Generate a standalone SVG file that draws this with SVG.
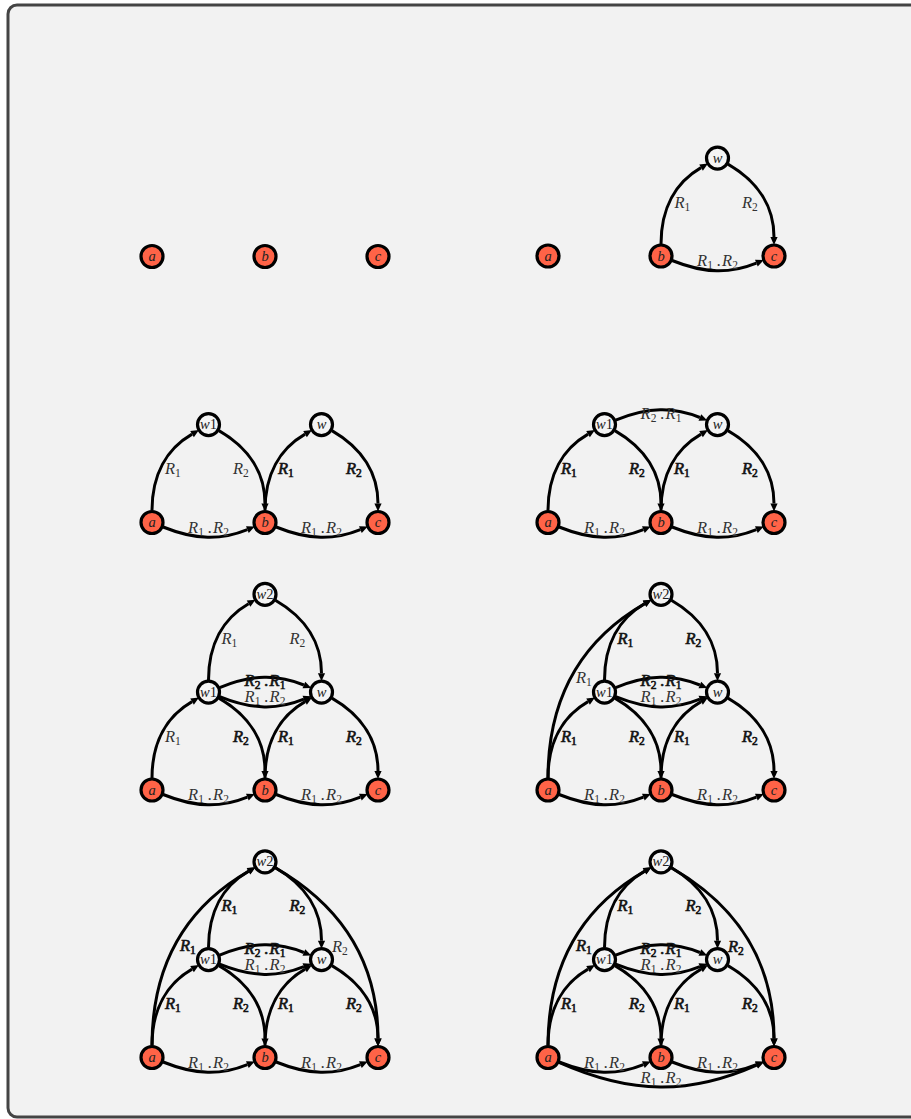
<svg xmlns="http://www.w3.org/2000/svg" width="911" height="1119" viewBox="0 0 911 1119">
<defs>
<marker id="ah" markerUnits="userSpaceOnUse" markerWidth="8" markerHeight="8" refX="0" refY="0" orient="auto" overflow="visible">
<path d="M0,-3.6 L8,0 L0,3.6 z" fill="#000"/>
</marker>
</defs>
<style>
.e{fill:none;stroke:#000;stroke-width:3;marker-end:url(#ah)}
.t{font-family:"Liberation Serif",serif;font-style:italic;font-size:16.5px;fill:#333}
.m{text-anchor:middle}
.s{font-size:11.5px;font-style:normal}
.b{stroke:#111;stroke-width:0.6;fill:#111}
.n circle{stroke:#000;stroke-width:3.2}
.red circle{fill:#ff6347}
.wht circle{fill:#f4f4f4}
.n text{font-family:"Liberation Serif",serif;font-style:italic;font-size:14.5px;fill:#222;text-anchor:middle}
.n tspan{font-style:normal}
</style>
<rect x="8" y="5" width="930" height="1112" rx="9" fill="#f2f2f2" stroke="#444" stroke-width="3"/>

<g id="connectors">
<!-- panel 2 -->
<g transform="translate(548,256)">
<path class="e" d="M113,-12 C113,-48.1 127.85,-73.85 153.05,-88.4"/>
<path class="e" d="M179.89,-91.9 C211.15,-73.85 226,-48.1 226,-19"/>
<path class="e" d="M124.13,4.5 C157,17.8 182,17.8 208.38,7.1"/>
<text class="t" x="126.5" y="-48.5">R<tspan class="s" dy="3">1</tspan></text>
<text class="t" x="194" y="-48.5">R<tspan class="s" dy="3">2</tspan></text>
<text class="t m" x="169.5" y="10">R<tspan class="s" dy="3">1</tspan><tspan dy="-3" dx="4">.</tspan><tspan dx="1">R</tspan><tspan class="s" dy="3">2</tspan></text>
</g>
<!-- panel 3 -->
<g transform="translate(152,522.5)">
<path class="e" d="M0,-12 C0,-48.1 14.85,-73.85 40.05,-88.4"/>
<path class="e" d="M66.89,-91.9 C98.15,-73.85 113,-48.1 113,-19"/>
<path class="e" d="M113,-12 C113,-48.1 127.85,-73.85 153.05,-88.4"/>
<path class="e" d="M179.89,-91.9 C211.15,-73.85 226,-48.1 226,-19"/>
<path class="e" d="M11.13,4.5 C44,17.8 69,17.8 95.38,7.1"/>
<path class="e" d="M124.13,4.5 C157,17.8 182,17.8 208.38,7.1"/>
<text class="t" x="13" y="-48.5">R<tspan class="s" dy="3">1</tspan></text>
<text class="t" x="81" y="-48.5">R<tspan class="s" dy="3">2</tspan></text>
<text class="t b" x="126" y="-48.5">R<tspan class="s" dy="3">1</tspan></text>
<text class="t b" x="194" y="-48.5">R<tspan class="s" dy="3">2</tspan></text>
<text class="t m" x="56.5" y="10">R<tspan class="s" dy="3">1</tspan><tspan dy="-3" dx="4">.</tspan><tspan dx="1">R</tspan><tspan class="s" dy="3">2</tspan></text>
<text class="t m" x="169.5" y="10">R<tspan class="s" dy="3">1</tspan><tspan dy="-3" dx="4">.</tspan><tspan dx="1">R</tspan><tspan class="s" dy="3">2</tspan></text>
</g>
<!-- panel 4 -->
<g transform="translate(548,522.5)">
<path class="e" d="M0,-12 C0,-48.1 14.85,-73.85 40.05,-88.4"/>
<path class="e" d="M66.89,-91.9 C98.15,-73.85 113,-48.1 113,-19"/>
<path class="e" d="M113,-12 C113,-48.1 127.85,-73.85 153.05,-88.4"/>
<path class="e" d="M179.89,-91.9 C211.15,-73.85 226,-48.1 226,-19"/>
<path class="e" d="M11.13,4.5 C44,17.8 69,17.8 95.38,7.1"/>
<path class="e" d="M124.13,4.5 C157,17.8 182,17.8 208.38,7.1"/>
<path class="e" d="M67.63,-102.4 C100.5,-115.7 125.5,-115.7 151.88,-105"/>
<text class="t b" x="13" y="-48.5">R<tspan class="s" dy="3">1</tspan></text>
<text class="t b" x="81" y="-48.5">R<tspan class="s" dy="3">2</tspan></text>
<text class="t b" x="126" y="-48.5">R<tspan class="s" dy="3">1</tspan></text>
<text class="t b" x="194" y="-48.5">R<tspan class="s" dy="3">2</tspan></text>
<text class="t m" x="113" y="-104">R<tspan class="s" dy="3">2</tspan><tspan dy="-3" dx="4">.</tspan><tspan dx="1">R</tspan><tspan class="s" dy="3">1</tspan></text>
<text class="t m" x="56.5" y="10">R<tspan class="s" dy="3">1</tspan><tspan dy="-3" dx="4">.</tspan><tspan dx="1">R</tspan><tspan class="s" dy="3">2</tspan></text>
<text class="t m" x="169.5" y="10">R<tspan class="s" dy="3">1</tspan><tspan dy="-3" dx="4">.</tspan><tspan dx="1">R</tspan><tspan class="s" dy="3">2</tspan></text>
</g>
<!-- panel 5 -->
<g transform="translate(152,790)">
<path class="e" d="M56.5,-109.9 C56.5,-146 71.35,-171.75 96.55,-186.3"/>
<path class="e" d="M123.39,-189.7 C154.65,-171.65 169.5,-145.9 169.5,-116.8"/>
<path class="e" d="M67.63,-102.4 C100.5,-115.7 125.5,-115.7 151.88,-105"/>
<path class="e" d="M67.63,-93.4 C100.5,-80.1 125.5,-80.1 151.88,-90.8"/>
<path class="e" d="M0,-12 C0,-48.1 14.85,-73.85 40.05,-88.4"/>
<path class="e" d="M66.89,-91.9 C98.15,-73.85 113,-48.1 113,-19"/>
<path class="e" d="M113,-12 C113,-48.1 127.85,-73.85 153.05,-88.4"/>
<path class="e" d="M179.89,-91.9 C211.15,-73.85 226,-48.1 226,-19"/>
<path class="e" d="M11.13,4.5 C44,17.8 69,17.8 95.38,7.1"/>
<path class="e" d="M124.13,4.5 C157,17.8 182,17.8 208.38,7.1"/>
<text class="t" x="69.5" y="-146.4">R<tspan class="s" dy="3">1</tspan></text>
<text class="t" x="137.5" y="-146.4">R<tspan class="s" dy="3">2</tspan></text>
<text class="t m b" x="113" y="-104">R<tspan class="s" dy="3">2</tspan><tspan dy="-3" dx="4">.</tspan><tspan dx="1">R</tspan><tspan class="s" dy="3">1</tspan></text>
<text class="t m" x="113" y="-88">R<tspan class="s" dy="3">1</tspan><tspan dy="-3" dx="4">.</tspan><tspan dx="1">R</tspan><tspan class="s" dy="3">2</tspan></text>
<text class="t" x="13" y="-48.5">R<tspan class="s" dy="3">1</tspan></text>
<text class="t b" x="81" y="-48.5">R<tspan class="s" dy="3">2</tspan></text>
<text class="t b" x="126" y="-48.5">R<tspan class="s" dy="3">1</tspan></text>
<text class="t b" x="194" y="-48.5">R<tspan class="s" dy="3">2</tspan></text>
<text class="t m" x="56.5" y="10">R<tspan class="s" dy="3">1</tspan><tspan dy="-3" dx="4">.</tspan><tspan dx="1">R</tspan><tspan class="s" dy="3">2</tspan></text>
<text class="t m" x="169.5" y="10">R<tspan class="s" dy="3">1</tspan><tspan dy="-3" dx="4">.</tspan><tspan dx="1">R</tspan><tspan class="s" dy="3">2</tspan></text>
</g>
<!-- panel 6 -->
<g transform="translate(548,790)">
<path class="e" d="M0,-12 C0,-92.3 33.1,-149.55 96.55,-186.2"/>
<path class="e" d="M56.5,-109.9 C56.5,-146 71.35,-171.75 96.55,-186.3"/>
<path class="e" d="M123.39,-189.7 C154.65,-171.65 169.5,-145.9 169.5,-116.8"/>
<path class="e" d="M67.63,-102.4 C100.5,-115.7 125.5,-115.7 151.88,-105"/>
<path class="e" d="M67.63,-93.4 C100.5,-80.1 125.5,-80.1 151.88,-90.8"/>
<path class="e" d="M0,-12 C0,-48.1 14.85,-73.85 40.05,-88.4"/>
<path class="e" d="M66.89,-91.9 C98.15,-73.85 113,-48.1 113,-19"/>
<path class="e" d="M113,-12 C113,-48.1 127.85,-73.85 153.05,-88.4"/>
<path class="e" d="M179.89,-91.9 C211.15,-73.85 226,-48.1 226,-19"/>
<path class="e" d="M11.13,4.5 C44,17.8 69,17.8 95.38,7.1"/>
<path class="e" d="M124.13,4.5 C157,17.8 182,17.8 208.38,7.1"/>
<text class="t" x="28" y="-107">R<tspan class="s" dy="3">1</tspan></text>
<text class="t b" x="69.5" y="-146.4">R<tspan class="s" dy="3">1</tspan></text>
<text class="t b" x="137.5" y="-146.4">R<tspan class="s" dy="3">2</tspan></text>
<text class="t m b" x="113" y="-104">R<tspan class="s" dy="3">2</tspan><tspan dy="-3" dx="4">.</tspan><tspan dx="1">R</tspan><tspan class="s" dy="3">1</tspan></text>
<text class="t m" x="113" y="-88">R<tspan class="s" dy="3">1</tspan><tspan dy="-3" dx="4">.</tspan><tspan dx="1">R</tspan><tspan class="s" dy="3">2</tspan></text>
<text class="t b" x="13" y="-48.5">R<tspan class="s" dy="3">1</tspan></text>
<text class="t b" x="81" y="-48.5">R<tspan class="s" dy="3">2</tspan></text>
<text class="t b" x="126" y="-48.5">R<tspan class="s" dy="3">1</tspan></text>
<text class="t b" x="194" y="-48.5">R<tspan class="s" dy="3">2</tspan></text>
<text class="t m" x="56.5" y="10">R<tspan class="s" dy="3">1</tspan><tspan dy="-3" dx="4">.</tspan><tspan dx="1">R</tspan><tspan class="s" dy="3">2</tspan></text>
<text class="t m" x="169.5" y="10">R<tspan class="s" dy="3">1</tspan><tspan dy="-3" dx="4">.</tspan><tspan dx="1">R</tspan><tspan class="s" dy="3">2</tspan></text>
</g>
<!-- panel 7 -->
<g transform="translate(152,1057.5)">
<path class="e" d="M0,-12 C0,-92.3 33.1,-149.55 96.55,-186.2"/>
<path class="e" d="M123.39,-189.7 C192.9,-149.55 226,-92.3 226,-19"/>
<path class="e" d="M56.5,-109.9 C56.5,-146 71.35,-171.75 96.55,-186.3"/>
<path class="e" d="M123.39,-189.7 C154.65,-171.65 169.5,-145.9 169.5,-116.8"/>
<path class="e" d="M67.63,-102.4 C100.5,-115.7 125.5,-115.7 151.88,-105"/>
<path class="e" d="M67.63,-93.4 C100.5,-80.1 125.5,-80.1 151.88,-90.8"/>
<path class="e" d="M0,-12 C0,-48.1 14.85,-73.85 40.05,-88.4"/>
<path class="e" d="M66.89,-91.9 C98.15,-73.85 113,-48.1 113,-19"/>
<path class="e" d="M113,-12 C113,-48.1 127.85,-73.85 153.05,-88.4"/>
<path class="e" d="M179.89,-91.9 C211.15,-73.85 226,-48.1 226,-19"/>
<path class="e" d="M11.13,4.5 C44,17.8 69,17.8 95.38,7.1"/>
<path class="e" d="M124.13,4.5 C157,17.8 182,17.8 208.38,7.1"/>
<text class="t b" x="28" y="-107">R<tspan class="s" dy="3">1</tspan></text>
<text class="t" x="180" y="-106">R<tspan class="s" dy="3">2</tspan></text>
<text class="t b" x="69.5" y="-146.4">R<tspan class="s" dy="3">1</tspan></text>
<text class="t b" x="137.5" y="-146.4">R<tspan class="s" dy="3">2</tspan></text>
<text class="t m b" x="113" y="-104">R<tspan class="s" dy="3">2</tspan><tspan dy="-3" dx="4">.</tspan><tspan dx="1">R</tspan><tspan class="s" dy="3">1</tspan></text>
<text class="t m" x="113" y="-88">R<tspan class="s" dy="3">1</tspan><tspan dy="-3" dx="4">.</tspan><tspan dx="1">R</tspan><tspan class="s" dy="3">2</tspan></text>
<text class="t b" x="13" y="-48.5">R<tspan class="s" dy="3">1</tspan></text>
<text class="t b" x="81" y="-48.5">R<tspan class="s" dy="3">2</tspan></text>
<text class="t b" x="126" y="-48.5">R<tspan class="s" dy="3">1</tspan></text>
<text class="t b" x="194" y="-48.5">R<tspan class="s" dy="3">2</tspan></text>
<text class="t m" x="56.5" y="10">R<tspan class="s" dy="3">1</tspan><tspan dy="-3" dx="4">.</tspan><tspan dx="1">R</tspan><tspan class="s" dy="3">2</tspan></text>
<text class="t m" x="169.5" y="10">R<tspan class="s" dy="3">1</tspan><tspan dy="-3" dx="4">.</tspan><tspan dx="1">R</tspan><tspan class="s" dy="3">2</tspan></text>
</g>
<!-- panel 8 -->
<g transform="translate(548,1057.5)">
<path class="e" d="M0,-12 C0,-92.3 33.1,-149.55 96.55,-186.2"/>
<path class="e" d="M123.39,-189.7 C192.9,-149.55 226,-92.3 226,-19"/>
<path class="e" d="M56.5,-109.9 C56.5,-146 71.35,-171.75 96.55,-186.3"/>
<path class="e" d="M123.39,-189.7 C154.65,-171.65 169.5,-145.9 169.5,-116.8"/>
<path class="e" d="M67.63,-102.4 C100.5,-115.7 125.5,-115.7 151.88,-105"/>
<path class="e" d="M67.63,-93.4 C100.5,-80.1 125.5,-80.1 151.88,-90.8"/>
<path class="e" d="M0,-12 C0,-48.1 14.85,-73.85 40.05,-88.4"/>
<path class="e" d="M66.89,-91.9 C98.15,-73.85 113,-48.1 113,-19"/>
<path class="e" d="M113,-12 C113,-48.1 127.85,-73.85 153.05,-88.4"/>
<path class="e" d="M179.89,-91.9 C211.15,-73.85 226,-48.1 226,-19"/>
<path class="e" d="M11.13,4.5 C44,17.8 69,17.8 95.38,7.1"/>
<path class="e" d="M124.13,4.5 C157,17.8 182,17.8 208.38,7.1"/>
<path class="e" d="M10.96,4.88 C83.96,37.38 142.04,37.38 208.65,7.73"/>
<text class="t b" x="28" y="-107">R<tspan class="s" dy="3">1</tspan></text>
<text class="t b" x="180" y="-106">R<tspan class="s" dy="3">2</tspan></text>
<text class="t b" x="69.5" y="-146.4">R<tspan class="s" dy="3">1</tspan></text>
<text class="t b" x="137.5" y="-146.4">R<tspan class="s" dy="3">2</tspan></text>
<text class="t m b" x="113" y="-104">R<tspan class="s" dy="3">2</tspan><tspan dy="-3" dx="4">.</tspan><tspan dx="1">R</tspan><tspan class="s" dy="3">1</tspan></text>
<text class="t m" x="113" y="-88">R<tspan class="s" dy="3">1</tspan><tspan dy="-3" dx="4">.</tspan><tspan dx="1">R</tspan><tspan class="s" dy="3">2</tspan></text>
<text class="t b" x="13" y="-48.5">R<tspan class="s" dy="3">1</tspan></text>
<text class="t b" x="81" y="-48.5">R<tspan class="s" dy="3">2</tspan></text>
<text class="t b" x="126" y="-48.5">R<tspan class="s" dy="3">1</tspan></text>
<text class="t b" x="194" y="-48.5">R<tspan class="s" dy="3">2</tspan></text>
<text class="t m" x="56.5" y="10">R<tspan class="s" dy="3">1</tspan><tspan dy="-3" dx="4">.</tspan><tspan dx="1">R</tspan><tspan class="s" dy="3">2</tspan></text>
<text class="t m" x="169.5" y="10">R<tspan class="s" dy="3">1</tspan><tspan dy="-3" dx="4">.</tspan><tspan dx="1">R</tspan><tspan class="s" dy="3">2</tspan></text>
<text class="t m" x="113" y="25.7">R<tspan class="s" dy="3">1</tspan><tspan dy="-3" dx="4">.</tspan><tspan dx="1">R</tspan><tspan class="s" dy="3">2</tspan></text>
</g>
</g>

<g id="nodes">
<g transform="translate(152,256.5)">
<g id="p1-a" class="n red"><circle cx="0" cy="0" r="11"/><text x="0" y="4.5">a</text></g>
<g id="p1-b" class="n red"><circle cx="113" cy="0" r="11"/><text x="113" y="4.5">b</text></g>
<g id="p1-c" class="n red"><circle cx="226" cy="0" r="11"/><text x="226" y="4.5">c</text></g>
</g>
<g transform="translate(548,256)">
<g id="p2-a" class="n red"><circle cx="0" cy="0" r="11"/><text x="0" y="4.5">a</text></g>
<g id="p2-b" class="n red"><circle cx="113" cy="0" r="11"/><text x="113" y="4.5">b</text></g>
<g id="p2-c" class="n red"><circle cx="226" cy="0" r="11"/><text x="226" y="4.5">c</text></g>
<g id="p2-w" class="n wht"><circle cx="169.5" cy="-97.9" r="11"/><text x="169.5" y="-93.4">w</text></g>
</g>
<g transform="translate(152,522.5)">
<g id="p3-a" class="n red"><circle cx="0" cy="0" r="11"/><text x="0" y="4.5">a</text></g>
<g id="p3-b" class="n red"><circle cx="113" cy="0" r="11"/><text x="113" y="4.5">b</text></g>
<g id="p3-c" class="n red"><circle cx="226" cy="0" r="11"/><text x="226" y="4.5">c</text></g>
<g id="p3-w1" class="n wht"><circle cx="56.5" cy="-97.9" r="11"/><text x="56.5" y="-93.4">w<tspan>1</tspan></text></g>
<g id="p3-w" class="n wht"><circle cx="169.5" cy="-97.9" r="11"/><text x="169.5" y="-93.4">w</text></g>
</g>
<g transform="translate(548,522.5)">
<g id="p4-a" class="n red"><circle cx="0" cy="0" r="11"/><text x="0" y="4.5">a</text></g>
<g id="p4-b" class="n red"><circle cx="113" cy="0" r="11"/><text x="113" y="4.5">b</text></g>
<g id="p4-c" class="n red"><circle cx="226" cy="0" r="11"/><text x="226" y="4.5">c</text></g>
<g id="p4-w1" class="n wht"><circle cx="56.5" cy="-97.9" r="11"/><text x="56.5" y="-93.4">w<tspan>1</tspan></text></g>
<g id="p4-w" class="n wht"><circle cx="169.5" cy="-97.9" r="11"/><text x="169.5" y="-93.4">w</text></g>
</g>
<g transform="translate(152,790)">
<g id="p5-a" class="n red"><circle cx="0" cy="0" r="11"/><text x="0" y="4.5">a</text></g>
<g id="p5-b" class="n red"><circle cx="113" cy="0" r="11"/><text x="113" y="4.5">b</text></g>
<g id="p5-c" class="n red"><circle cx="226" cy="0" r="11"/><text x="226" y="4.5">c</text></g>
<g id="p5-w1" class="n wht"><circle cx="56.5" cy="-97.9" r="11"/><text x="56.5" y="-93.4">w<tspan>1</tspan></text></g>
<g id="p5-w" class="n wht"><circle cx="169.5" cy="-97.9" r="11"/><text x="169.5" y="-93.4">w</text></g>
<g id="p5-w2" class="n wht"><circle cx="113" cy="-195.7" r="11"/><text x="113" y="-191.2">w<tspan>2</tspan></text></g>
</g>
<g transform="translate(548,790)">
<g id="p6-a" class="n red"><circle cx="0" cy="0" r="11"/><text x="0" y="4.5">a</text></g>
<g id="p6-b" class="n red"><circle cx="113" cy="0" r="11"/><text x="113" y="4.5">b</text></g>
<g id="p6-c" class="n red"><circle cx="226" cy="0" r="11"/><text x="226" y="4.5">c</text></g>
<g id="p6-w1" class="n wht"><circle cx="56.5" cy="-97.9" r="11"/><text x="56.5" y="-93.4">w<tspan>1</tspan></text></g>
<g id="p6-w" class="n wht"><circle cx="169.5" cy="-97.9" r="11"/><text x="169.5" y="-93.4">w</text></g>
<g id="p6-w2" class="n wht"><circle cx="113" cy="-195.7" r="11"/><text x="113" y="-191.2">w<tspan>2</tspan></text></g>
</g>
<g transform="translate(152,1057.5)">
<g id="p7-a" class="n red"><circle cx="0" cy="0" r="11"/><text x="0" y="4.5">a</text></g>
<g id="p7-b" class="n red"><circle cx="113" cy="0" r="11"/><text x="113" y="4.5">b</text></g>
<g id="p7-c" class="n red"><circle cx="226" cy="0" r="11"/><text x="226" y="4.5">c</text></g>
<g id="p7-w1" class="n wht"><circle cx="56.5" cy="-97.9" r="11"/><text x="56.5" y="-93.4">w<tspan>1</tspan></text></g>
<g id="p7-w" class="n wht"><circle cx="169.5" cy="-97.9" r="11"/><text x="169.5" y="-93.4">w</text></g>
<g id="p7-w2" class="n wht"><circle cx="113" cy="-195.7" r="11"/><text x="113" y="-191.2">w<tspan>2</tspan></text></g>
</g>
<g transform="translate(548,1057.5)">
<g id="p8-a" class="n red"><circle cx="0" cy="0" r="11"/><text x="0" y="4.5">a</text></g>
<g id="p8-b" class="n red"><circle cx="113" cy="0" r="11"/><text x="113" y="4.5">b</text></g>
<g id="p8-c" class="n red"><circle cx="226" cy="0" r="11"/><text x="226" y="4.5">c</text></g>
<g id="p8-w1" class="n wht"><circle cx="56.5" cy="-97.9" r="11"/><text x="56.5" y="-93.4">w<tspan>1</tspan></text></g>
<g id="p8-w" class="n wht"><circle cx="169.5" cy="-97.9" r="11"/><text x="169.5" y="-93.4">w</text></g>
<g id="p8-w2" class="n wht"><circle cx="113" cy="-195.7" r="11"/><text x="113" y="-191.2">w<tspan>2</tspan></text></g>
</g>
</g>
</svg>
